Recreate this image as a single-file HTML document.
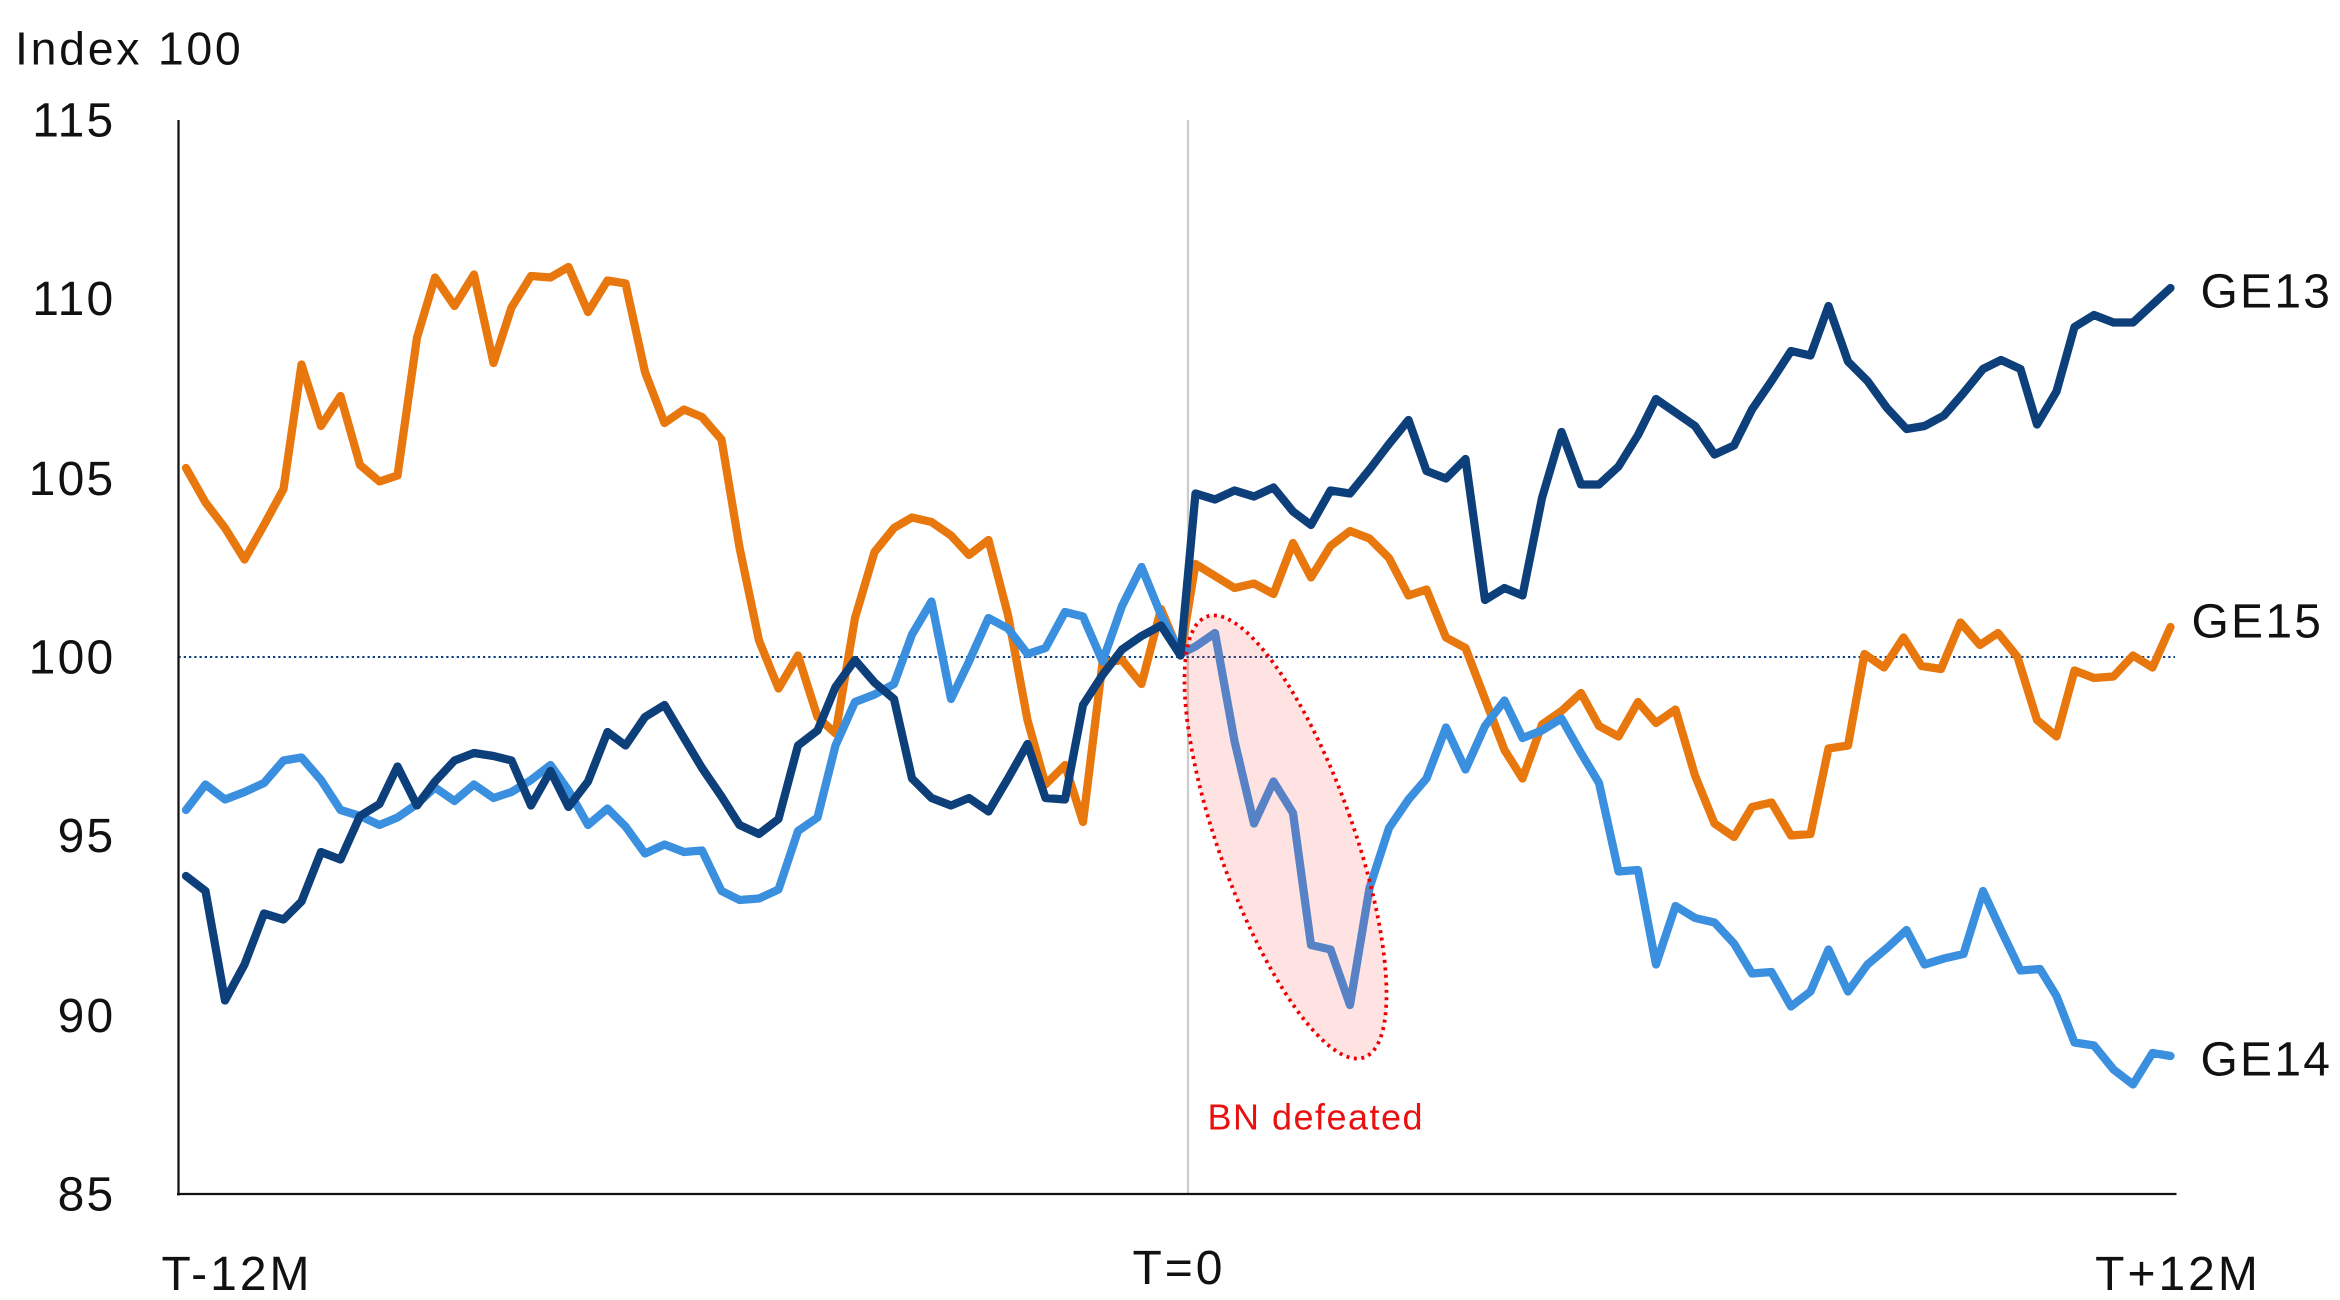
<!DOCTYPE html>
<html><head><meta charset="utf-8"><style>
html,body{margin:0;padding:0;background:#fff;}
svg{display:block;}
text{font-family:"Liberation Sans",sans-serif;fill:#111;}
</style></head><body>
<svg width="2340" height="1300" viewBox="0 0 1560 866.67" xmlns="http://www.w3.org/2000/svg">
<rect width="1560" height="867" fill="#fff"/>
<text x="10" y="43" font-size="31" letter-spacing="1.8">Index 100</text>
<g font-size="32" text-anchor="end" letter-spacing="1.5">
<text x="77" y="91">115</text>
<text x="77" y="210">110</text>
<text x="77" y="330">105</text>
<text x="77" y="449">100</text>
<text x="77" y="568">95</text>
<text x="77" y="688">90</text>
<text x="77" y="807">85</text>
</g>
<g font-size="32" text-anchor="middle" letter-spacing="2">
<text x="158" y="860">T-12M</text>
<text x="786" y="856">T=0</text>
<text x="1452" y="860">T+12M</text>
</g>
<line x1="792" y1="80" x2="792" y2="796" stroke="#ccc" stroke-width="1.5"/>
<line x1="119" y1="438" x2="1450" y2="438" stroke="#0d3f7a" stroke-width="1.3" stroke-dasharray="1.5,2"/>
<line x1="119" y1="80" x2="119" y2="797" stroke="#111" stroke-width="1.5"/>
<line x1="118" y1="796" x2="1451" y2="796" stroke="#111" stroke-width="1.5"/>
<g fill="none" stroke-width="5.5" stroke-linejoin="round" stroke-linecap="round">
<polyline stroke="#e8780e" points="124,312 137,335 150,352 163,373 176,350 189,326 201,243 214,284 227,264 240,310 253,321 265,317 278,225 290,185 303,204 316,183 329,242 341,205 354,184 367,185 379,178 392,208 405,187 417,189 430,248 443,282 456,273 468,278 481,293 493,365 506,427 519,459 532,437 545,478 557,489 570,412 583,368 596,352 608,345 621,348 634,357 646,370 659,360 672,410 685,480 697,523 710,510 722,548 735,442 748,440 761,456 774,406 787,437 797,376 810,384 823,392 836,389 849,396 862,362 874,385 887,364 900,354 913,359 926,372 939,397 951,393 964,425 977,432 990,466 1003,500 1015,519 1028,483 1041,474 1054,462 1066,484 1079,491 1092,468 1104,482 1117,473 1130,517 1143,549 1156,558 1168,538 1181,535 1194,557 1207,556 1219,499 1232,497 1243,436 1256,445 1269,425 1281,444 1294,446 1307,415 1320,430 1332,422 1345,438 1358,480 1371,491 1383,447 1396,452 1409,451 1422,437 1435,445 1447,418"/>
<polyline stroke="#3a8fde" points="124,540 137,523 150,533 163,528 176,522 189,507 201,505 214,520 227,540 240,544 253,550 265,545 278,536 290,525 303,534 316,523 329,532 341,528 354,520 367,510 379,527 392,550 405,539 417,551 430,569 443,563 456,568 468,567 481,594 493,600 506,599 519,593 532,554 545,545 557,497 570,468 583,463 596,456 608,423 621,401 634,466 646,441 659,412 672,419 685,436 697,432 710,408 722,411 735,441 748,404 761,378 774,410 787,436 797,431 810,422 823,494 836,549 849,521 862,542 874,630 887,633 900,670 913,592 926,552 939,533 951,519 964,485 977,513 990,484 1003,467 1015,492 1028,487 1041,479 1054,502 1066,522 1079,581 1092,580 1104,643 1117,604 1130,612 1143,615 1156,629 1168,649 1181,648 1194,671 1207,661 1219,633 1232,661 1245,643 1258,632 1271,620 1283,643 1296,639 1309,636 1322,594 1334,620 1347,647 1360,646 1371,664 1383,695 1396,697 1409,713 1422,723 1435,702 1447,704"/>
<polyline stroke="#0d3f7a" points="124,584 137,594 150,667 163,643 176,609 189,613 201,601 214,568 227,573 240,544 253,536 265,511 278,537 290,521 303,507 316,502 329,504 341,507 354,537 367,514 379,538 392,521 405,488 417,497 430,478 443,470 456,492 468,512 481,531 493,550 506,556 519,546 532,497 545,487 557,458 570,440 583,455 596,466 608,519 621,532 634,537 646,532 659,541 672,519 685,496 697,532 710,533 722,470 735,450 748,433 761,424 774,417 787,437 797,329 810,333 823,327 836,331 849,325 862,341 874,350 887,327 900,329 913,313 926,296 939,280 951,314 964,319 977,306 990,400 1003,392 1015,397 1028,332 1041,288 1054,323 1066,323 1079,311 1092,290 1104,266 1117,275 1130,284 1143,303 1156,297 1168,273 1181,254 1194,234 1207,237 1219,204 1232,241 1245,254 1258,272 1271,286 1283,284 1296,277 1309,262 1322,246 1334,240 1347,246 1358,283 1371,261 1383,218 1396,210 1409,215 1422,215 1435,203 1447,192"/>
</g>
<ellipse cx="857" cy="558" rx="45" ry="156" transform="rotate(-19.6 857 558)" fill="rgba(255,60,60,0.15)" stroke="#e00" stroke-width="2.5" stroke-dasharray="2,3"/>
<text x="805" y="753" font-size="24" letter-spacing="1" style="fill:#e81010">BN defeated</text>
<g font-size="32" letter-spacing="1.5">
<text x="1467" y="205">GE13</text>
<text x="1461" y="425">GE15</text>
<text x="1467" y="717">GE14</text>
</g>
</svg>
</body></html>
